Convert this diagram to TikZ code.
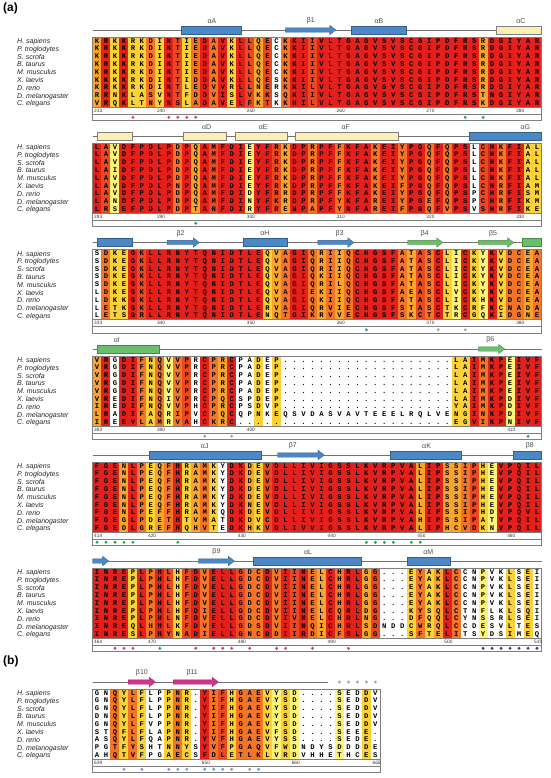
\documentclass[tikz,border=0pt]{standalone}
\usepackage{fontspec}
\setmainfont{Liberation Sans}
\newfontfamily\seqfont{Liberation Mono}
\usetikzlibrary{positioning}

\definecolor{cons6}{HTML}{E3211C}
\definecolor{cons5}{HTML}{EA4A22}
\definecolor{cons4}{HTML}{F2752A}
\definecolor{cons3}{HTML}{F8A530}
\definecolor{cons2}{HTML}{FCD23A}
\definecolor{cons1}{HTML}{FFF47A}
\definecolor{cons0}{HTML}{FFFFFF}
\definecolor{frame}{HTML}{7F7F7F}
\definecolor{hxblue}{HTML}{4C88C6}
\definecolor{hxpale}{HTML}{FCEFB4}
\definecolor{hxgreen}{HTML}{6BBF6A}
\definecolor{hxmag}{HTML}{D6338C}
\definecolor{dotmag}{HTML}{E0308C}
\definecolor{dotgreen}{HTML}{1FA84F}
\definecolor{dotgrey}{HTML}{A6A6A6}
\definecolor{dotnavy}{HTML}{2B3C9A}
\definecolor{dotsky}{HTML}{6E9BD6}

\newcount\colno
\def\colx{97}
\def\colw{8.98}
\def\rowh{7.8}
\def\gapmark{-}

\tikzset{
  res/.style={font=\seqfont\bfseries\fontsize{7.2}{7.2}\selectfont, inner sep=0pt,
    text height=4.1pt, text depth=0pt},
  splab/.style={font=\itshape\fontsize{7}{7}\selectfont, anchor=west, inner sep=0pt,
    text height=5pt, text depth=0pt, text=black!85},
  rulerlab/.style={font=\fontsize{4.8}{4.8}\selectfont, anchor=west, inner sep=0pt, text=black!80},
  sslab/.style={font=\fontsize{7}{7}\selectfont, text=black!70, inner sep=0pt},
  panellab/.style={font=\bfseries\fontsize{12}{12}\selectfont, inner sep=0pt},
  framebox/.style={draw=frame, line width=0.7pt},
  ssline/.style={draw=black!55, line width=0.7pt},
  hxb/.style={fill=hxblue, draw=hxblue!70!black, line width=0.4pt},
  hxp/.style={fill=hxpale, draw=black!50, line width=0.4pt},
  hxg/.style={fill=hxgreen, draw=hxgreen!70!black, line width=0.4pt},
  hxm/.style={fill=hxmag, draw=hxmag!70!black, line width=0.4pt},
}

\makeatletter
% one row of residues, one node per letter; - is a gap
\newcommand\seqrow[3]{%
  \colno=0
  \@tfor\ch:=#1\do{%
    \advance\colno by 1
    \ifx\ch\gapmark\def\ch{.}\fi
    \node[res] (#3-\the\colno) at ({\colx+(\the\colno-1)*\colw},{#2}) {\ch};}}
% conservation colour of each column
\newcommand\colstrip[3]{%
  \colno=0
  \@tfor\ch:=#1\do{%
    \advance\colno by 1
    \fill[fill=cons\ch] ({\colx+(\the\colno-1.5)*\colw},{#2}) rectangle ({\colx+(\the\colno-0.45)*\colw},{#3});}}
\makeatother

\newcommand\alnblock[5]{% y0, columns, colours, rows, name
  \pgfmathsetmacro\blkL{\colx-0.5*\colw}
  \pgfmathsetmacro\blkR{\colx+(#2-0.5)*\colw}
  \pgfmathsetmacro\blkT{#1-0.5*\rowh}
  \pgfmathsetmacro\blkB{#1+8.5*\rowh}
  \colstrip{#3}{\blkT}{\blkB}
  \foreach \s [count=\r] in {#4} {
    \pgfmathsetmacro\yy{#1+(\r-1)*\rowh}
    \expandafter\seqrow\expandafter{\s}{\yy}{#5-\r}}
  \draw[framebox] (\blkL,\blkT) rectangle (\blkR,{\blkB+13.2});
  \draw[framebox] (\blkL,\blkB) -- (\blkR,\blkB);
  \draw[framebox] (\blkL,{\blkB+6.7}) -- (\blkR,{\blkB+6.7});
}
\newcommand\species[2]{%
  \foreach \nm [count=\r] in {H. sapiens,P. troglodytes,S. scrofa,B. taurus,M. musculus,X. laevis,D. rerio,D. melanogaster,C. elegans}
    \node[splab] (#2-sp\r) at (17,{#1+(\r-1)*\rowh}) {\nm};}
\newcommand\ruler[3]{%
  \foreach \c/\n in {#2}
    \node[rulerlab] (#3-\n) at ({max(\colx+(\c-1)*\colw-3,\colx-4)},{#1+8.5*\rowh+3.4}) {\n};}
\newcommand\dotrow[3]{%
  \foreach \c in {#3} \fill[#2] ({\colx+(\c-1)*\colw},{#1+8.5*\rowh+10}) circle (1.6);}
\newcommand\ssbase[1]{\draw[ssline] (\blkL,{#1-11}) -- (\blkR,{#1-11});}
\newcommand\sshelix[4]{\filldraw[#1] ({\colx+(#2-1)*\colw},{#4-14.9}) rectangle ({\colx+(#3-1)*\colw},{#4-7.1});}
\newcommand\ssstrand[4]{\filldraw[#1] ({\colx+(#2-1)*\colw},{#4-13.2}) -- ({\colx+(#3-1)*\colw-6},{#4-13.2})
  -- ({\colx+(#3-1)*\colw-6},{#4-15.6}) -- ({\colx+(#3-1)*\colw},{#4-11})
  -- ({\colx+(#3-1)*\colw-6},{#4-6.4}) -- ({\colx+(#3-1)*\colw-6},{#4-8.8})
  -- ({\colx+(#2-1)*\colw},{#4-8.8}) -- cycle;}
\newcommand\sslab[4]{\node[sslab] (#1) at ({\colx+(#2-1)*\colw},{#3-20}) {#4};}

\begin{document}
\begin{tikzpicture}[x=1pt,y=-1pt]
  \useasboundingbox (0,0) rectangle (550,778);
  \node[panellab, anchor=north west] (pa) at (3,3) {(a)};

  % block 1: 233-282
  \alnblock{41}{50}{36262 24265 24646 26535 04665 66666 66666 66666 66636 66666}{
    KRKKRKDINT IEDAVKLLQE CKKIIVLTGA GVSVSCGIPD FRSRDGIYAR,
    KRKKRKDINT IEDAVKLLQE CKKIIVLTGA GVSVSCGIPD FRSRDGIYAR,
    KRKKRKDINT IEDAVKLLQE CKKIIVLTGA GVSVSCGIPD FRSRDGIYAR,
    KRKKRKDINT IEDAVKLLQE CKKIIVLTGA GVSVSCGIPD FRSRDGIYAR,
    KRKKRKDINT IEDAVKLLQE CKKIIVLTGA GVSVSCGIPD FRSRDGIYAR,
    KKKKRKDINT IDDAVKLLQE SKKIIVLTGA GVSVSCGIPD FRSRDGIYAR,
    KRKKRKDINT LEDVVRLLNE RKKILVLTGA GVSVSCGIPD FRSRDGIYAR,
    RRNKLASVNT FDDVISLVKK SQKIIVLTGA GVSVSCGIPD FRSTNGIYAR,
    VRQKLTNYNS LADAVELFKT KKHILVLTGA GVSVSCGIPD FRSKDGIYAR}{b1}
  \species{41}{b1}
  \ruler{41}{1/233,8/240,18/250,28/260,38/270,48/280}{b1r}
  \dotrow{41}{dotmag}{5,9,10,11,12}
  \dotrow{41}{dotgreen}{42,44}
  \ssbase{41}
  \sshelix{hxb}{10.4}{17.1}{41}
  \ssstrand{hxb}{22}{27.6}{41}
  \sshelix{hxb}{29.3}{35.4}{41}
  \sshelix{hxp}{45.4}{50.5}{41}
  \sslab{aA}{13.8}{41}{αA}
  \sslab{b1l}{24.8}{41}{β1}
  \sslab{aB}{32.4}{41}{αB}
  \sslab{aC}{48.2}{41}{αC}

  % block 2: 283-332
  \alnblock{147}{50}{65166 66664 63656 66166 53664 66466 64664 66464 66056 46622}{
    LAVDFPDLPD PQAMFDIEYF RKDPRPFFKF AKEIYPGQFQ PSLCHKFIAL,
    LAVDFPDLPD PQAMFDIEYF RKDPRPFFKF AKEIYPGQFQ PSLCHKFIAL,
    LAVDFPDLPD PQAMFDIEYF RKDPRPFFKF AKEIYPGQFQ PSLCHKFIAL,
    LAIDFPDLPD PQAMFDIEYF RKDPRPFFKF AKEIYPGQFQ PSLCHKFIAL,
    LAVDFPDLPD PQAMFDIEYF RKDPRPFFKF AKEIYPGQFQ PSLCHKFIAL,
    LAVDFPDLPN PQAMFDIEYF RKDPRPFFKF AKEIFPGQFQ PSLCHRFIAM,
    LAVDFPDLPD PQAMFDIDYF RRDPRPFFKF AKEIYPGQFQ PSPCHRFISM,
    LANDFPDLPD PQAMFDINYF KRDPRPFYKF AREIYPGEFQ PSPCHRFIKM,
    LRSEFPDLPD PTANFDIRYF RENPAPFYNF AREIFPGQFV PSVSHRFIKE}{b2}
  \species{147}{b2}
  \ruler{147}{1/283,8/290,18/300,28/310,38/320,48/330}{b2r}
  \dotrow{147}{dotgreen}{12}
  \ssbase{147}
  \sshelix{hxp}{1}{4.9}{147}
  \sshelix{hxp}{10.6}{15.4}{147}
  \sshelix{hxp}{16.4}{22.2}{147}
  \sshelix{hxp}{23.1}{34.5}{147}
  \sshelix{hxb}{42.5}{50.5}{147}
  \sslab{aD}{13.2}{147}{αD}
  \sslab{aE}{19.5}{147}{αE}
  \sslab{aF}{28.7}{147}{αF}
  \sslab{aG}{48.7}{147}{αG}

  % block 3: 333-382
  \alnblock{253.5}{50}{04226 56666 66666 66662 34664 34346 66664 35462 16216 24434}{
    SDKEGKLLRN YTQNIDTLEQ VAGIQRIIQC HGSFATASCL ICKYKVDCEA,
    SDKEGKLLRN YTQNIDTLEQ VAGIQRIIQC HGSFATASCL ICKYKVDCEA,
    SDKEGKLLRN YTQNIDTLEQ VAGIQRIIQC HGSFATASCL ICKYKVDCEA,
    SDKEGKLLRN YTQNIDTLEQ VAGIQKIIQC HGSFATASCL ICKYKVDCEA,
    SDKEGKLLRN YTQNIDTLEQ VAGIQRILQC HGSFATASCL ICKYKVDCEA,
    LDKEGKLLRN YTQNIDTLEQ VAGIEKIIQC HGSFAEASCL VCKYKVDCEA,
    LDKKGKLLRN YTQNIDTLEQ VAGIQKIIQC HGSFATASCL ICKHKVDCEA,
    LETKGKLLRN YTQNIDTLER VAGIQRVIEC HGSFSTASCT KCRFKCNADA,
    LETSGRLLRN YTQNIDTLEN QTGIKRVVEC HGSFSKCTCT RCGQKIDGNE}{b3}
  \species{253.5}{b3}
  \ruler{253.5}{1/333,8/340,18/350,28/360,38/370,48/380}{b3r}
  \dotrow{253.5}{dotgreen}{31}
  \dotrow{253.5}{dotgrey}{39,42}
  \ssbase{253.5}
  \sshelix{hxb}{1}{4.9}{253.5}
  \ssstrand{hxb}{8.8}{12.4}{253.5}
  \sshelix{hxb}{17.3}{22.2}{253.5}
  \ssstrand{hxb}{25.6}{29.6}{253.5}
  \ssstrand{hxg}{35.6}{39.5}{253.5}
  \ssstrand{hxg}{43.5}{47.4}{253.5}
  \sshelix{hxg}{48.4}{50.5}{253.5}
  \sslab{b2l}{10.3}{253.5}{β2}
  \sslab{aH}{19.7}{253.5}{αH}
  \sslab{b3l}{28}{253.5}{β3}
  \sslab{b4l}{37.5}{253.5}{β4}
  \sslab{b5l}{45.1}{253.5}{β5}

  % block 4: 383-413
  \alnblock{360}{50}{36066 42414 50643 60020 20000 00000 00000 00000 22646 61666}{
    VRGDIFNQVV PRCPRCPADE P--------- ---------- LAIMKPEIVF,
    VRGDIFNQVV PRCPRCPADE P--------- ---------- LAIMKPEIVF,
    VRGDIFNQVV PRCPRCPADE P--------- ---------- LAIMKPEIVF,
    VRGDIFNQVV PRCPRCPADE P--------- ---------- LAIMKPEIVF,
    VRGDIFNQVV PRCPRCPADE P--------- ---------- LAIMKPEIVF,
    VREDIFNQIV PRCPQCSPDE P--------- ---------- LAIMKPDIVF,
    IREDIFNQVV PHCPRCPSDV P--------- ---------- YAIMKPDIVF,
    LRADIFAQRI PVCPQCQPNK EQSVDASVAV TEEELRQLVE NGINKPDIVF,
    IREEVLAMRV AHCKRC---- ---------- ---------- EGVIKPNIVF}{b4}
  \species{360}{b4}
  \ruler{360}{1/383,8/390,18/400,47/410}{b4r}
  \dotrow{360}{dotgrey}{13,16}
  \dotrow{360}{dotgreen}{49}
  \ssbase{360}
  \sshelix{hxg}{1}{7.9}{360}
  \ssstrand{hxg}{43.5}{46.4}{360}
  \sslab{aI}{3.2}{360}{αI}
  \sslab{b6l}{44.8}{360}{β6}

  % block 5: 414-463
  \alnblock{466}{50}{66636 42346 23420 66325 66666 66666 66666 63663 34521 66666}{
    FGENLPEQFH RAMKYDKDEV DLLIVIGSSL KVRPVALIPS SIPHEVPQIL,
    FGENLPEQFH RAMKYDKDEV DLLIVIGSSL KVRPVALIPS SIPHEVPQIL,
    FGENLPEQFH RAMKYDKDEV DLLIVIGSSL KVRPVALIPS SIPHEVPQIL,
    FGENLPEQFH RAMKYDKDEV DLLIVIGSSL KVRPVALIPS SIPHEVPQIL,
    FGENLPEQFH RAMKYDKDEV DLLIVIGSSL KVRPVALIPS SIPHEVPQIL,
    FGENLPEQFH RAMKYDKNEV DLLIVIGSSL KVRPVALIPS SIPHEVPQIL,
    FGENLPEFFH RAMKQDKDEV DLLIVIGSSL KVRPVALIPS SIPHDVPQVL,
    FGEGLPDETH TVMATDKDVC DLLIVIGSSL KVRPVAHIPS SIPATVPQIL,
    FGEDLGREFH QHVTEDKHKV DLIVVIGSSL KVRPVALIPH CVDKNVPQIL}{b5}
  \species{466}{b5}
  \ruler{466}{1/414,7/420,17/430,27/440,37/450,47/460}{b5r}
  \dotrow{466}{dotgreen}{1,2,3,4,5,10,31,32,33,34,36,37}
  \ssbase{466}
  \sshelix{hxb}{6.8}{19.3}{466}
  \ssstrand{hxb}{21.1}{26.3}{466}
  \sshelix{hxb}{33.6}{41.6}{466}
  \sshelix{hxb}{47.4}{50.5}{466}
  \sslab{aJ}{13}{466}{αJ}
  \sslab{b7l}{22.8}{466}{β7}
  \sslab{aK}{37.7}{466}{αK}
  \sslab{b8l}{49.2}{466}{β8}

  % block 6: 464-510
  \alnblock{572}{50}{66662 64652 56466 65446 46564 36466 35000 24236 40010 02020}{
    INREPLPHLH FDVELLGDCD VIINELCHRL GG---EYAKL CCNPVKLSEI,
    INREPLPHLH FDVELLGDCD VIINELCHRL GG---EYAKL CCNPVKLSEI,
    INREPLPHLH FDVELLGDCD VIINELCHRL GG---EYAKL CCNPVKLSEI,
    INREPLPHLH FDVELLGDCD VIINELCHRL GG---EYAKL CCNPVKLSEI,
    INREPLPHLH FDVELLGDCD VIINELCHRL GG---EYAKL CCNPVKLSEI,
    INREPLPHLH FDIELLGDCD VIINELCQRL DG---KYSQL CTNFLKLSQI,
    INREPLPHLN FDVELLGDCD VIVNELCHRL NG---DFQQL CYNSSRLSEI,
    INREQLHHLK FDVELLGDSD VIINQICHRL SDNDDCWRQL CCDESVLTES,
    INRESLPHYN ADIELLGNCD DIIRDICFSL GG---SFTEL ITSYDSIMEQ}{b6}
  \species{572}{b6}
  \ruler{572}{1/464,7/470,17/480,27/490,40/500,50/510}{b6r}
  \dotrow{572}{dotmag}{3,4,5,12,14,15,16,18,21,22,25,29}
  \dotrow{572}{dotgreen}{8}
  \dotrow{572}{dotnavy}{44,45,46,47,48,49,50}
  \ssbase{572}
  \ssstrand{hxb}{0.5}{2.3}{572}
  \ssstrand{hxb}{12.3}{16.3}{572}
  \sshelix{hxb}{18.4}{30.4}{572}
  \sshelix{hxb}{35.5}{40.3}{572}
  \sslab{b9l}{14.3}{572}{β9}
  \sslab{aL}{24.5}{572}{αL}
  \sslab{aM}{37.9}{572}{αM}

  % panel b: 639-665
  \node[panellab, anchor=north west] (pb) at (3,656) {(b)};
  \alnblock{693}{32}{00424 20024 20645 24442 12100 00100 20}{
    GNQYLFLPPN R-YIFHGAEV YSD----SED DV,
    GNQYLFLPPN R-YIFHGAEV YSD----SED DV,
    GNQYLFLPPN R-YIFHGAEV YSD----SED DV,
    DNQYLFLPPN R-YIFHGAEV YSD----SED DV,
    GNQYLFVPPN R-YIFHGAEV YSD----SED DV,
    STQFLFLAPN R-YIFHGAEV FSD----SEE E-,
    ASQYLFQAPN R-YVFHGAEV YSS----SED E-,
    PGTFYSHTNN YSYVFPGAQV FWDNDYSDDD DE,
    AHQTVFPGAE CSFDLETLKL VRDVHHETHC ES}{bb}
  \species{693}{bb}
  \ruler{693}{1/639,13/650,23/660,32/665}{bbr}
  \dotrow{693}{dotsky}{4,6,9,10,11,13,14,15,16,18,19}
  \draw[ssline] (\blkL,682) -- ({\colx+25.7*\colw},682);
  \ssstrand{hxm}{4.5}{7.5}{693}
  \ssstrand{hxm}{9.5}{14.5}{693}
  \foreach \c in {28,...,32} \fill[dotgrey] ({\colx+(\c-1)*\colw},682) circle (1.6);
  \sslab{b10l}{6}{693}{β10}
  \sslab{b11l}{11.6}{693}{β11}
\end{tikzpicture}
\end{document}
